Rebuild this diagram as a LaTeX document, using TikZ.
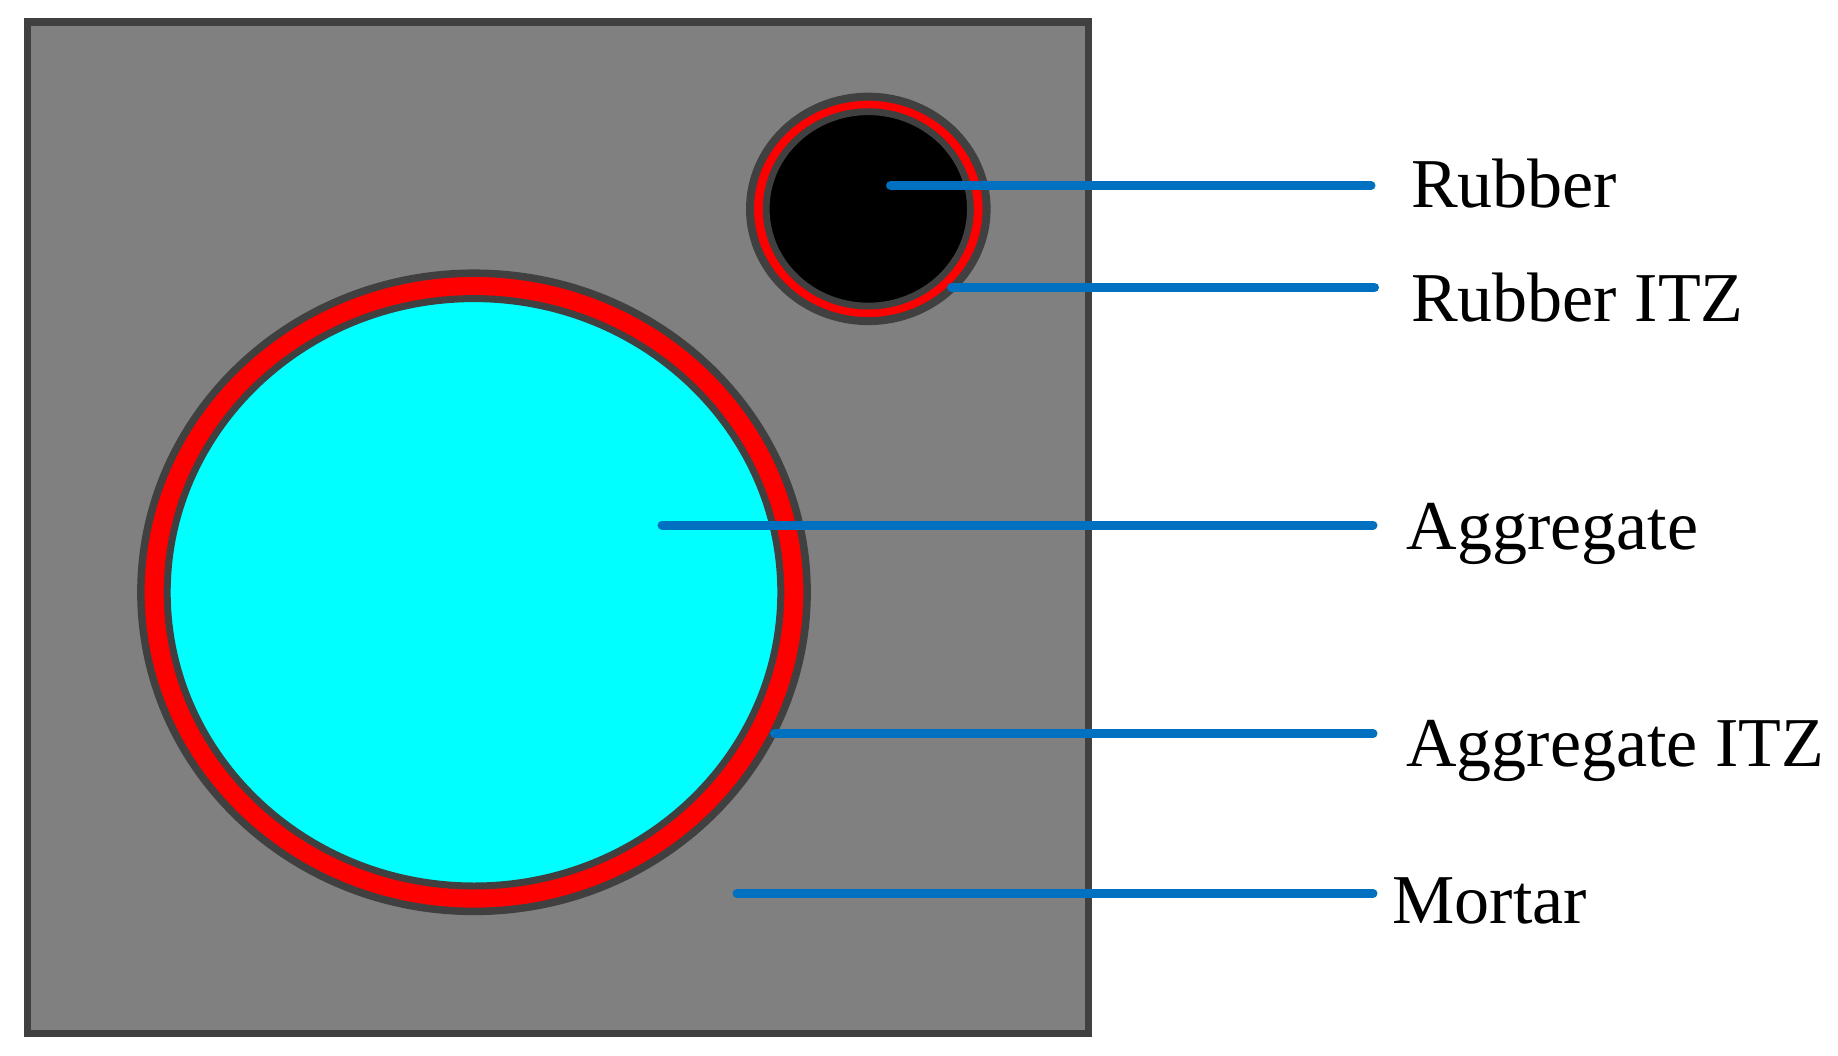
\documentclass[tikz,border=0pt]{standalone}
\usepackage{fontspec}
\setmainfont{Liberation Serif}
\definecolor{mortar}{HTML}{808080}
\definecolor{edge}{HTML}{404040}
\definecolor{itz}{HTML}{FF0000}
\definecolor{agg}{HTML}{00FFFF}
\definecolor{lead}{HTML}{0070C0}
\tikzset{
  rim/.style={draw=edge},
  leadline/.style={draw=lead, line width=9pt, line cap=round},
  lab/.style={anchor=base west, inner sep=0pt, font=\fontsize{70}{84}\selectfont}
}
\begin{document}
\begin{tikzpicture}[x=1pt,y=-1pt]
\useasboundingbox (0,0) rectangle (1838,1056);
% mortar block
\draw[rim, fill=mortar, line width=7.5pt] (27.5,22) rectangle (1088.5,1033.5);
% aggregate
\draw[rim, fill=itz, line width=7.5pt] (474,592.3) ellipse [x radius=333.1pt, y radius=319.1pt];
\draw[rim, fill=agg, line width=7pt] (474,592.3) ellipse [x radius=306.8pt, y radius=293.7pt];
% rubber
\draw[rim, fill=itz, line width=8pt] (868.3,208.9) ellipse [x radius=118.3pt, y radius=112.2pt];
\draw[rim, fill=black, line width=6.8pt] (868.3,208.9) ellipse [x radius=102.1pt, y radius=97.2pt];
% labels
\node[lab] (rub) at (1411,208) {Rubber};
\node[lab] (rubitz) at (1411,321.7) {Rubber ITZ};
\node[lab] (ag) at (1406.5,549) {Aggregate};
\node[lab] (agitz) at (1406,766) {Aggregate ITZ};
\node[lab] (mort) at (1392.5,923) {Mortar};
% leader start / end points
\coordinate (s1) at (890.5,185.5);  \coordinate (e1) at (1371,185.5);
\coordinate (s2) at (951.5,287.5);  \coordinate (e2) at (1374.5,287.5);
\coordinate (s3) at (662,525);      \coordinate (e3) at (1373,525);
\coordinate (s4) at (774.5,733.5);  \coordinate (e4) at (1373,733.5);
\coordinate (s5) at (737,893.3);    \coordinate (e5) at (1373,893.3);
\draw[leadline] (s1) -- (e1);
\draw[leadline] (s2) -- (e2);
\draw[leadline] (s3) -- (e3);
\draw[leadline] (s4) -- (e4);
\draw[leadline] (s5) -- (e5);
\end{tikzpicture}
\end{document}
